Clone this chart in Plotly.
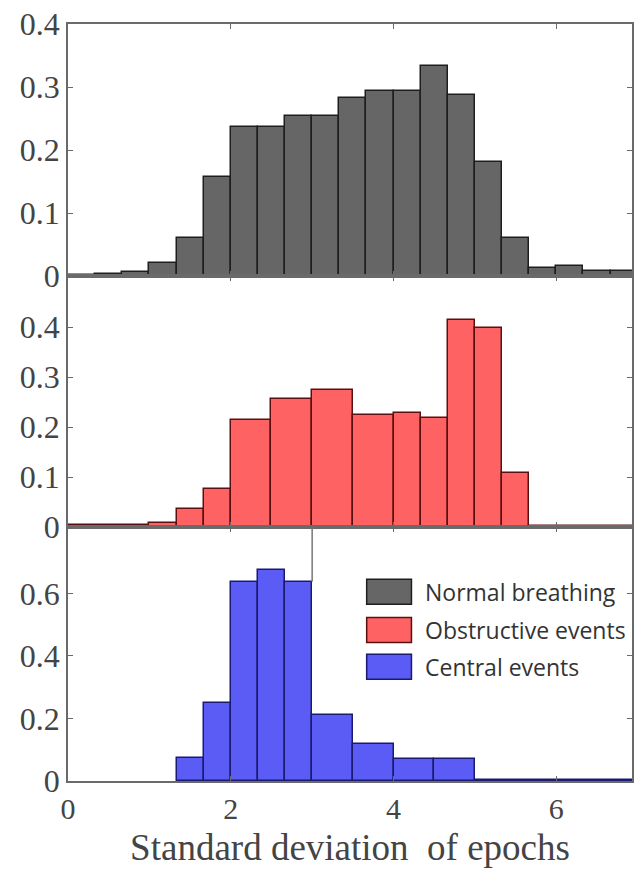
import plotly.graph_objects as go
from plotly.subplots import make_subplots

# ---------------- data ----------------
# Normal breathing: 21 bins of width 1/3 from 0 to 7
normal_edges = [i / 3 for i in range(22)]
normal_values = [0.002, 0.003, 0.007, 0.021, 0.060, 0.157, 0.236, 0.237, 0.254,
                 0.254, 0.282, 0.294, 0.294, 0.333, 0.288, 0.181, 0.061, 0.013,
                 0.016, 0.008, 0.008]

# Obstructive events (uneven bins)
obstr_edges = [0, 1, 4 / 3, 5 / 3, 2, 2.5, 3, 3.5, 4, 13 / 3, 14 / 3, 5, 16 / 3, 17 / 3, 7]
obstr_values = [0.005, 0.009, 0.037, 0.077, 0.214, 0.256, 0.275, 0.224, 0.229,
                0.219, 0.414, 0.399, 0.109, 0.002]

# Central events (uneven bins)
central_edges = [4 / 3, 5 / 3, 2, 7 / 3, 8 / 3, 3, 3.5, 4, 4.5, 5, 7]
central_values = [0.072, 0.248, 0.637, 0.674, 0.637, 0.211, 0.117, 0.070, 0.070, 0.003]

series_names = ["Normal breathing", "Obstructive events", "Central events"]
x_ticks = [0, 2, 4, 6]
x_title = "Standard deviation  of epochs"

fills = ["#666666", "#ff6262", "#5b5bf5"]
edges_col = ["#1e1e1e", "#5a1010", "#1a1a70"]

fig = make_subplots(rows=3, cols=1, shared_xaxes=False, vertical_spacing=0)

datasets = [(normal_edges, normal_values), (obstr_edges, obstr_values),
            (central_edges, central_values)]
for i, (e, v) in enumerate(datasets):
    centers = [(e[k] + e[k + 1]) / 2 for k in range(len(v))]
    widths = [e[k + 1] - e[k] for k in range(len(v))]
    fig.add_trace(go.Bar(x=centers, y=v, width=widths, name=series_names[i],
                         marker=dict(color=fills[i], line=dict(color=edges_col[i], width=1.5)),
                         showlegend=False), row=i + 1, col=1)

H = 757.0
doms = [[(781 - 276) / H, 1.0], [(781 - 527) / H, (781 - 276) / H], [0.0, (781 - 527) / H]]
yranges = [[0, 0.4], [0, 0.502], [0, 0.812]]
yticks = [[0, 0.1, 0.2, 0.3, 0.4], [0, 0.1, 0.2, 0.3, 0.4], [0, 0.2, 0.4, 0.6]]
serif = "Liberation Serif, Times New Roman, serif"
axcol = "#6a6a6a"
txtcol = "#444444"

for i in range(3):
    yname = "yaxis" if i == 0 else f"yaxis{i + 1}"
    xname = "xaxis" if i == 0 else f"xaxis{i + 1}"
    fig.layout[yname].update(domain=doms[i], range=yranges[i], tickvals=yticks[i],
                             ticktext=[("%g" % t) for t in yticks[i]],
                             ticks="inside", ticklen=5, tickcolor=axcol,
                             showline=True, linecolor=axcol, linewidth=1.5, mirror="ticks",
                             showgrid=False, zeroline=False,
                             tickfont=dict(family=serif, size=32, color=txtcol))
    fig.layout[xname].update(range=[0, 6.93], tickvals=x_ticks,
                             ticks="inside", ticklen=5, tickcolor=axcol,
                             showline=True, linecolor=axcol, linewidth=1.5, mirror="ticks",
                             showgrid=False, zeroline=False,
                             showticklabels=(i == 2),
                             tickfont=dict(family=serif, size=30, color=txtcol))

fig.layout.xaxis3.update(title=dict(text=x_title, font=dict(family=serif, size=37, color=txtcol),
                                    standoff=10))

# legend (drawn manually) with box edge line
fig.add_shape(type="line", xref="x3", yref="y3", x0=3, x1=3, y0=0.637, y1=0.812,
              line=dict(color="#777777", width=1.5))
leg_y = [0.605, 0.483, 0.365]
for i in range(3):
    fig.add_shape(type="rect", xref="x3", yref="y3", x0=3.67, x1=4.22,
                  y0=leg_y[i] - 0.04, y1=leg_y[i] + 0.04,
                  fillcolor=fills[i], line=dict(color=edges_col[i], width=1.5))
    fig.add_annotation(xref="x3", yref="y3", x=4.36, y=leg_y[i], text=series_names[i],
                       showarrow=False, xanchor="left", yanchor="middle",
                       font=dict(family="Open Sans, sans-serif", size=23, color="#333333"))

fig.update_layout(width=635, height=872, margin=dict(l=68, r=1, t=24, b=91),
                  paper_bgcolor="white", plot_bgcolor="white", bargap=0)

fig.write_html("out.html")
